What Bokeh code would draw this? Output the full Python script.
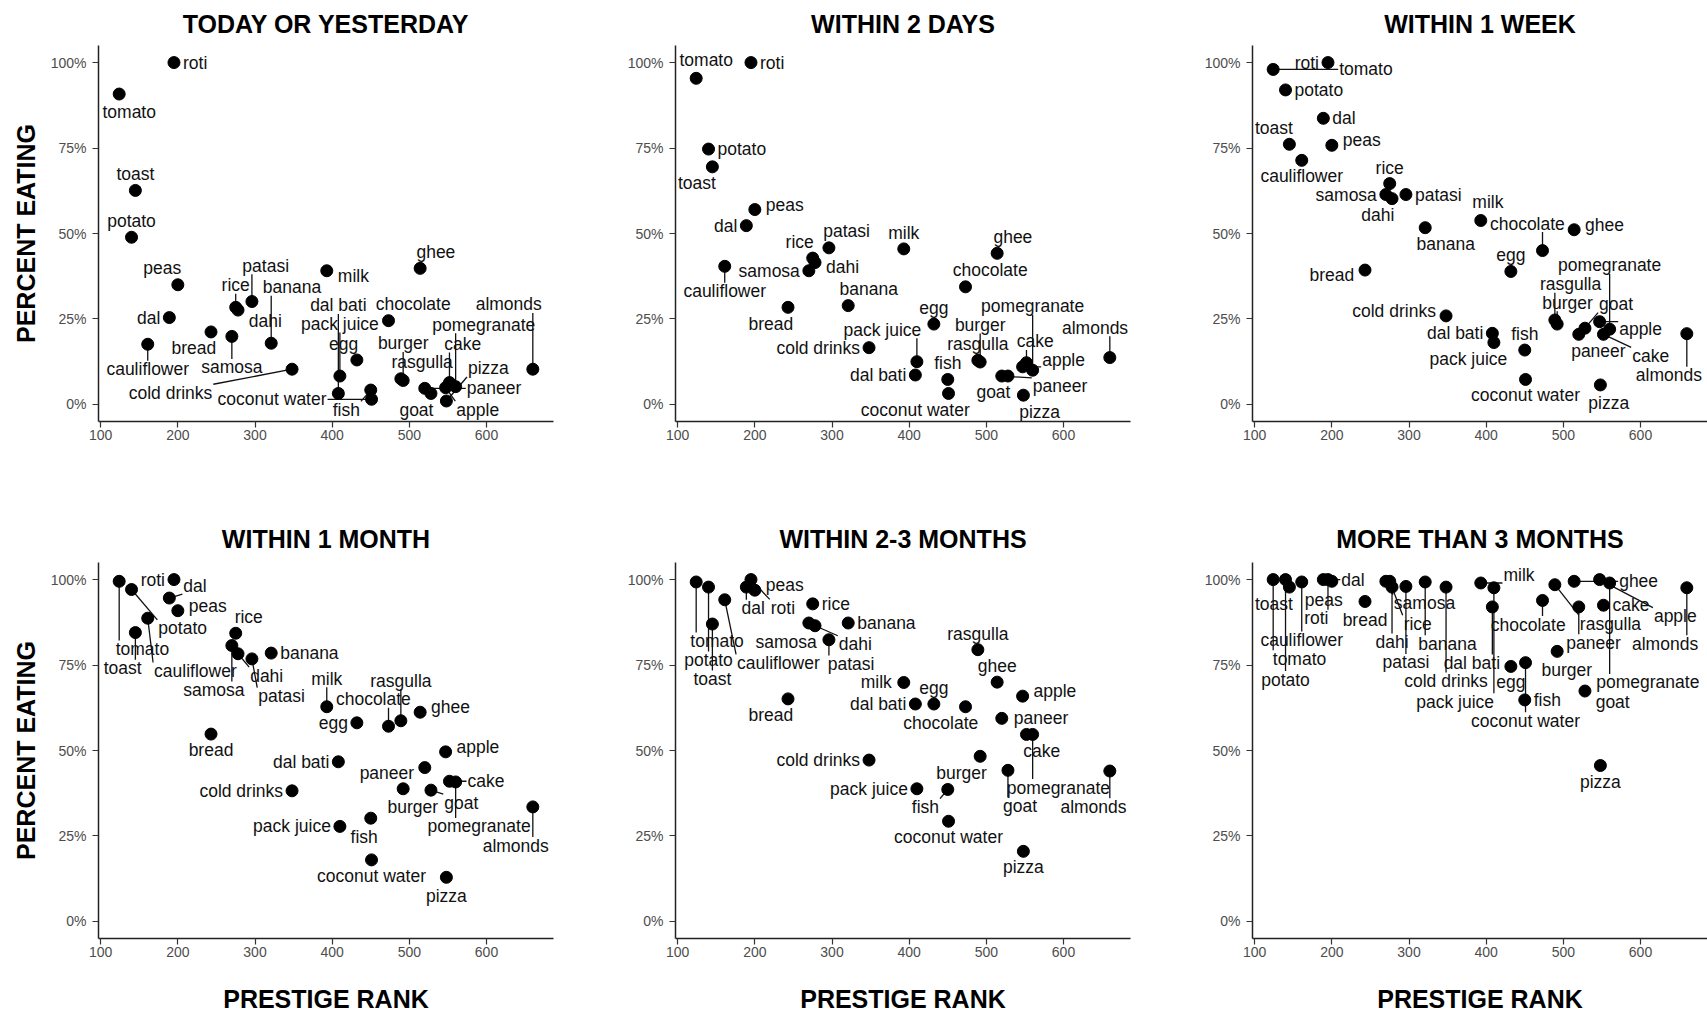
import math
import numpy as np
from bokeh.plotting import figure
from bokeh.layouts import column, row
from bokeh.models import Range1d, FixedTicker, NumeralTickFormatter, ColumnDataSource
from bokeh.core.properties import value
from bokeh.embed import file_html
from bokeh.resources import INLINE

# ---------------- data ----------------
foods = ["tomato", "potato", "toast", "cauliflower", "dal", "roti", "peas", "bread",
         "samosa", "rice", "dahi", "patasi", "banana", "cold drinks", "milk", "dal bati",
         "pack juice", "egg", "fish", "coconut water", "chocolate", "rasgulla", "burger",
         "ghee", "paneer", "goat", "apple", "pizza", "cake", "pomegranate", "almonds"]

prestige_rank = [124, 140, 145, 161, 189, 195, 200, 243, 270, 275, 278, 296, 321, 348, 393,
                 408, 410, 432, 450, 451, 473, 489, 492, 514, 520, 528, 547, 548, 552, 560, 660]

today_or_yesterday = [90.8, 48.9, 62.6, 17.6, 25.4, 100, 35.0, 21.2, 19.9, 28.4, 27.6, 30.1,
                      17.9, 10.3, 39.1, 3.2, 8.3, 13.0, 4.2, 1.5, 24.5, 7.5, 7.0, 39.8, 4.7,
                      3.2, 4.9, 1.0, 6.4, 5.2, 10.3]
within_2_days = [95.4, 74.7, 69.5, 40.4, 52.3, 100, 57.0, 28.4, 39.1, 42.8, 41.5, 45.8,
                 28.9, 16.6, 45.5, 8.6, 12.5, 23.5, 7.3, 3.2, 34.4, 12.9, 12.4, 44.2, 8.3,
                 8.3, 11.0, 2.7, 12.2, 10.0, 13.7]
within_1_week = [98.0, 92.0, 76.1, 71.4, 83.7, 100, 75.8, 39.3, 61.4, 64.6, 60.2, 61.4,
                 51.7, 25.9, 53.8, 20.8, 18.1, 38.9, 15.9, 7.3, 45.0, 24.7, 23.5, 51.1, 20.5,
                 22.3, 24.2, 5.7, 20.5, 22.0, 20.7]
within_1_month = [99.5, 97.1, 84.5, 88.7, 94.6, 100, 90.9, 54.8, 80.7, 84.3, 78.3, 76.8,
                  78.5, 38.2, 62.8, 46.7, 27.8, 58.1, 30.2, 18.0, 57.1, 58.7, 38.8, 61.2, 45.0,
                  38.4, 49.6, 12.9, 41.0, 40.8, 33.5]
within_2_3_months = [99.3, 97.8, 87.0, 94.1, 97.8, 100, 96.9, 65.1, 87.3, 92.9, 86.5, 82.4,
                     87.3, 47.2, 69.9, 63.6, 38.8, 63.6, 38.6, 29.3, 62.8, 79.5, 48.3, 70.0,
                     59.4, 44.2, 65.9, 20.5, 54.7, 54.7, 44.0]
more_than_3_months = [100, 100, 97.8, 99.3, 100, 100, 99.5, 93.6, 99.5, 99.5, 97.8, 98.0,
                      99.3, 97.8, 99.0, 92.0, 97.6, 74.6, 64.8, 75.7, 93.9, 98.5, 79.0, 99.5,
                      92.0, 67.4, 100, 45.6, 92.5, 99.0, 97.6]

panel_titles = ["TODAY OR YESTERDAY", "WITHIN 2 DAYS", "WITHIN 1 WEEK",
                "WITHIN 1 MONTH", "WITHIN 2-3 MONTHS", "MORE THAN 3 MONTHS"]
panel_values = [today_or_yesterday, within_2_days, within_1_week,
                within_1_month, within_2_3_months, more_than_3_months]

x_ticks = [100, 200, 300, 400, 500, 600]
y_ticks = [0, 0.25, 0.5, 0.75, 1.0]

# ---------------- layout / style ----------------
FONT = "Liberation Sans"
FW, FH = 455, 376
LABEL_PX = 17.5
xs = np.array(prestige_rank, dtype=float)
xpad = (xs.max() - xs.min()) * 0.05
X0, X1 = xs.min() - xpad, xs.max() + xpad
Y0, Y1 = -0.05, 1.05

CW = {'a': .556, 'b': .556, 'c': .5, 'd': .556, 'e': .556, 'f': .278, 'g': .556, 'h': .556,
      'i': .222, 'j': .222, 'k': .5, 'l': .222, 'm': .833, 'n': .556, 'o': .556, 'p': .556,
      'q': .556, 'r': .333, 's': .5, 't': .278, 'u': .556, 'v': .5, 'w': .722, 'x': .5,
      'y': .5, 'z': .5, ' ': .278}


def text_width(s, size):
    return sum(CW.get(ch, 0.556) for ch in s) * size


def angdiff(a, b):
    return np.abs((a - b + np.pi) % (2 * np.pi) - np.pi)


def place_labels(px, py, tw, th, W, H):
    """Greedy non-overlapping label placement around the points (pixel space, y down)."""
    n = len(px)
    pr = 7.0
    hw = tw / 2 + 2.0
    hh = th / 2 + 1.5
    d2 = (px[:, None] - px[None, :]) ** 2 + (py[:, None] - py[None, :]) ** 2
    near = d2 < 75 ** 2
    crowd = near.sum(axis=1)
    order = np.argsort(-crowd, kind="stable")
    angles = np.deg2rad(np.arange(0, 360, 15))
    ca, sa = np.cos(angles), np.sin(angles)
    radii = np.arange(0, 260, 3)
    plx, ply, phw, phh = [], [], [], []
    lx = np.zeros(n)
    ly = np.zeros(n)
    for i in order:
        nb = near[i].copy()
        nb[i] = False
        pref = np.pi / 2
        if nb.any():
            vx = px[i] - px[nb].mean()
            vy = py[i] - py[nb].mean()
            if math.hypot(vx, vy) > 3:
                pref = math.atan2(vy, vx)
        best = None
        for r in radii:
            if best is not None and r > best[0]:
                break
            cx = px[i] + ca * (hw[i] + pr + r)
            cy = py[i] + sa * (hh[i] + pr + r)
            ok = (cx - hw[i] >= 0) & (cx + hw[i] <= W) & (cy - hh[i] >= 0) & (cy + hh[i] <= H)
            ovp = (np.abs(cx[:, None] - px[None, :]) < hw[i] + pr) & \
                  (np.abs(cy[:, None] - py[None, :]) < hh[i] + pr)
            ok &= ~ovp.any(axis=1)
            if plx:
                ax_ = np.array(plx); ay_ = np.array(ply)
                aw_ = np.array(phw); ah_ = np.array(phh)
                ovl = (np.abs(cx[:, None] - ax_[None, :]) < hw[i] + aw_[None, :]) & \
                      (np.abs(cy[:, None] - ay_[None, :]) < hh[i] + ah_[None, :])
                ok &= ~ovl.any(axis=1)
            if ok.any():
                score = r + 8.0 * angdiff(angles, pref)
                score = np.where(ok, score, np.inf)
                k = int(np.argmin(score))
                if best is None or score[k] < best[0]:
                    best = (score[k], cx[k], cy[k])
        if best is None:
            best = (0, px[i], min(py[i] + hh[i] + pr, H - hh[i]))
        lx[i], ly[i] = best[1], best[2]
        plx.append(lx[i]); ply.append(ly[i]); phw.append(hw[i]); phh.append(hh[i])
    return lx, ly


def style_axis(ax):
    ax.axis_line_width = 1.5
    ax.axis_line_color = "#222222"
    ax.major_tick_line_color = "#333333"
    ax.major_tick_line_width = 1.2
    ax.major_tick_out = 6
    ax.major_tick_in = 0
    ax.minor_tick_line_color = None
    ax.major_label_text_font = FONT
    ax.major_label_text_font_size = "14px"
    ax.major_label_text_color = "#4d4d4d"
    ax.axis_label_text_font = FONT
    ax.axis_label_text_font_size = "25px"
    ax.axis_label_text_font_style = "bold"
    ax.axis_label_text_color = "#000000"


figs = []
for i, (title, vals) in enumerate(zip(panel_titles, panel_values)):
    r, c = divmod(i, 3)
    ys = np.array(vals, dtype=float) / 100.0
    p = figure(frame_width=FW, frame_height=FH,
               x_range=Range1d(X0, X1), y_range=Range1d(Y0, Y1),
               output_backend="svg", toolbar_location=None,
               min_border_left=(98 if c == 0 else 92),
               min_border_right=(30 if c < 2 else 0),
               min_border_top=(44 if r == 0 else 80),
               min_border_bottom=(61 if r == 0 else 74),
               background_fill_color="white", border_fill_color="white")
    p.outline_line_color = None
    p.xgrid.grid_line_color = None
    p.ygrid.grid_line_color = None
    p.title.text = title
    p.title.align = "center"
    p.title.text_font = FONT
    p.title.text_font_size = "25px"
    p.title.text_font_style = "bold"
    p.title.text_color = "#000000"
    p.title.standoff = 15 if r == 0 else 20

    p.xaxis.ticker = FixedTicker(ticks=x_ticks)
    p.yaxis.ticker = FixedTicker(ticks=y_ticks)
    p.yaxis.formatter = NumeralTickFormatter(format="0%")
    style_axis(p.xaxis[0])
    style_axis(p.yaxis[0])
    p.xaxis.major_label_standoff = 2
    p.yaxis.major_label_standoff = 6
    if c == 0:
        p.yaxis.axis_label = "PERCENT EATING"
        p.yaxis.axis_label_standoff = 8
    if r == 1:
        p.xaxis.axis_label = "PRESTIGE RANK"
        p.xaxis.axis_label_standoff = 25

    px = (xs - X0) / (X1 - X0) * FW
    py = (Y1 - ys) / (Y1 - Y0) * FH
    tw = np.array([text_width(f, LABEL_PX) for f in foods])
    th = np.full(len(foods), 15.0)
    lx, ly = place_labels(px, py, tw, th, FW, FH)

    cx = np.clip(px, lx - tw / 2 - 1, lx + tw / 2 + 1)
    cy = np.clip(py, ly - th / 2 - 1, ly + th / 2 + 1)
    d = np.hypot(px - cx, py - cy)
    need = d > 12.0
    seg = ColumnDataSource(dict(
        x0=xs[need], y0=ys[need],
        x1=X0 + cx[need] / FW * (X1 - X0),
        y1=Y1 - cy[need] / FH * (Y1 - Y0)))
    p.segment(x0="x0", y0="y0", x1="x1", y1="y1", source=seg,
              line_color="#111111", line_width=1.3)

    pts = ColumnDataSource(dict(x=xs, y=ys, food=foods))
    p.scatter(x="x", y="y", source=pts, size=12, fill_color="black", line_color="black")

    lab = ColumnDataSource(dict(
        x=X0 + lx / FW * (X1 - X0),
        y=Y1 - ly / FH * (Y1 - Y0),
        text=foods))
    p.text(x="x", y="y", text="text", source=lab, text_font=value(FONT),
           text_font_size="17.5px", text_color="#111111",
           text_align="center", text_baseline="middle")
    figs.append(p)

layout = column(row(*figs[:3]), row(*figs[3:]))
open("out.html", "w").write(file_html(layout, INLINE))
